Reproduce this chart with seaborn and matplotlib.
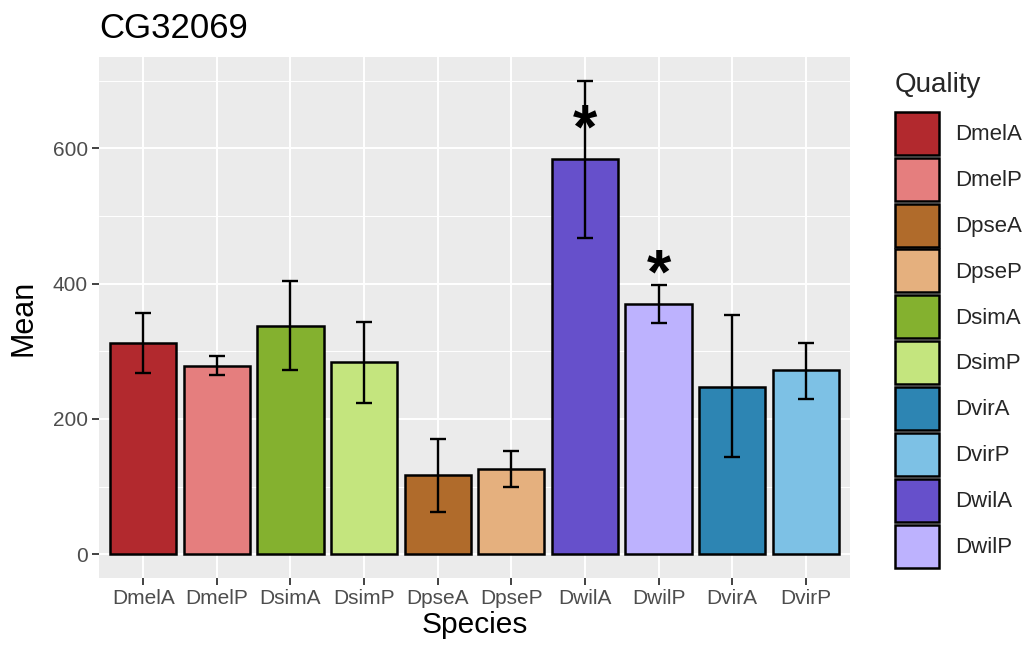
import matplotlib
matplotlib.use("Agg")
import matplotlib.pyplot as plt
from matplotlib.patches import Patch
import seaborn as sns
import pandas as pd

species = ["DmelA", "DmelP", "DsimA", "DsimP", "DpseA", "DpseP", "DwilA", "DwilP", "DvirA", "DvirP"]
means = [313, 279, 338, 284, 117, 126, 584, 370, 248, 272]
err_low = [268, 265, 272, 224, 62, 100, 467, 342, 144, 229]
err_high = [357, 293, 404, 343, 171, 153, 699, 398, 353, 313]
stars = ["", "", "", "", "", "", "*", "*", "", ""]
legend_order = ["DmelA", "DmelP", "DpseA", "DpseP", "DsimA", "DsimP", "DvirA", "DvirP", "DwilA", "DwilP"]
colors = {
    "DmelA": "#B2292E", "DmelP": "#E57E7E",
    "DpseA": "#B06B2B", "DpseP": "#E5B07E",
    "DsimA": "#84B12F", "DsimP": "#C4E57E",
    "DvirA": "#2D85B3", "DvirP": "#7DC1E5",
    "DwilA": "#6650CB", "DwilP": "#BDB2FE",
}
yticks = [0, 200, 400, 600]

sns.set_theme(style="darkgrid", rc={
    "axes.facecolor": "#EBEBEB",
    "grid.color": "white",
})
plt.rcParams["font.family"] = ["Liberation Sans", "DejaVu Sans"]

df = pd.DataFrame({"Species": species, "Mean": means})

fig = plt.figure(figsize=(10.29, 6.55), dpi=100)
ax = fig.add_axes([99 / 1029, 1 - 578 / 655, (850 - 99) / 1029, (578 - 57) / 655])

sns.barplot(data=df, x="Species", y="Mean", hue="Species", order=species,
            hue_order=species, palette=colors, dodge=False, width=0.9,
            saturation=1, edgecolor="black", linewidth=1.8, legend=False,
            ax=ax, zorder=2)

xpos = list(range(len(species)))
lower = [m - lo for m, lo in zip(means, err_low)]
upper = [hi - m for m, hi in zip(means, err_high)]
ax.errorbar(xpos, means, yerr=[lower, upper], fmt="none", ecolor="black",
            elinewidth=1.7, capsize=5.5, capthick=1.7, zorder=3)

for x, m, s in zip(xpos, means, stars):
    if s:
        ax.text(x, m + 42, s, ha="center", va="center", fontsize=45,
                fontweight="bold", color="black", zorder=4)

ax.set_xlim(-0.6, len(species) - 0.4)
ax.set_ylim(-35, 735)
ax.set_yticks(yticks)
ax.set_yticks([100, 300, 500, 700], minor=True)
ax.grid(True, which="major", color="white", linewidth=1.4)
ax.grid(True, which="minor", axis="y", color="white", linewidth=0.7)
ax.grid(False, which="minor", axis="x")
ax.set_axisbelow(True)
for sp in ax.spines.values():
    sp.set_visible(False)

ax.tick_params(axis="both", which="major", length=5, width=1.3, color="#333333",
               labelsize=15, labelcolor="#4D4D4D", pad=3, direction="out")
ax.tick_params(axis="both", which="minor", length=0)
ax.tick_params(axis="x", bottom=True)
ax.tick_params(axis="y", left=True)

ax.set_xlabel("Species", fontsize=21.5, color="black", labelpad=2)
ax.set_ylabel("Mean", fontsize=22, color="black", labelpad=10)
ax.set_title("CG32069", loc="left", fontsize=25, color="black", pad=14)

handles = [Patch(facecolor=colors[k], edgecolor="black", linewidth=1.8, label=k)
           for k in legend_order]
leg = fig.legend(handles=handles, title="Quality", loc="upper left",
                 bbox_to_anchor=(886 / 1029, 1 - 63 / 655), frameon=False,
                 fontsize=16, title_fontsize=20, handlelength=2.0, handleheight=2.6,
                 labelspacing=0.13, handletextpad=0.7, borderaxespad=0)
leg._legend_box.align = "left"
leg._legend_box.sep = 10

fig.savefig("out.png", dpi=100)
